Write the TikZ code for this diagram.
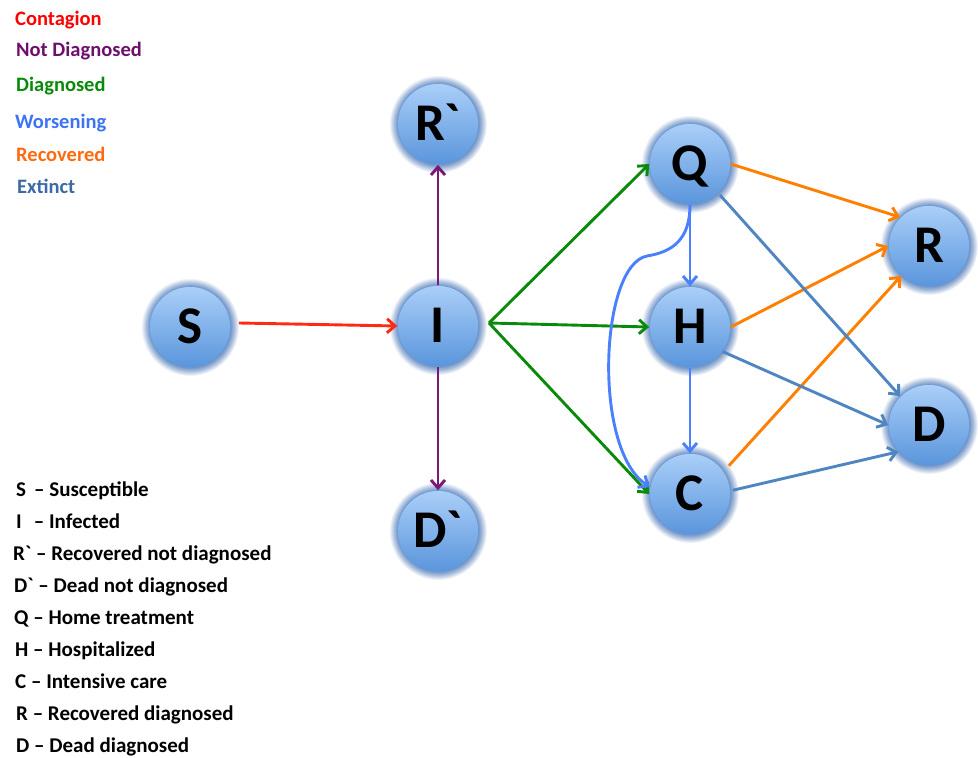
\documentclass[tikz,border=0pt]{standalone}
\usepackage{fontspec}
\setmainfont{Carlito}[Ligatures=TeXOff]
\usetikzlibrary{arrows.meta}
\definecolor{contagion}{HTML}{FF2A12}
\definecolor{contagiontxt}{HTML}{FF0000}
\definecolor{notdiag}{HTML}{7A1A78}
\definecolor{notdiagtxt}{HTML}{6E0F6E}
\definecolor{diag}{HTML}{0A8A0A}
\definecolor{worsen}{HTML}{4A80FF}
\definecolor{worsentxt}{HTML}{3D74F5}
\definecolor{recov}{HTML}{FF8000}
\definecolor{recovtxt}{HTML}{FF6A10}
\definecolor{extinct}{HTML}{4F86C2}
\definecolor{extincttxt}{HTML}{3B6BA5}
\definecolor{nodetop}{HTML}{ABCFF8}
\definecolor{nodebot}{HTML}{5A95DC}
\definecolor{nodeborder}{HTML}{6A9AD4}
\definecolor{glowcol}{HTML}{6F92C4}
\definecolor{glowmid}{HTML}{A9BEDD}
\pgfdeclareradialshading{glowshade}{\pgfpoint{0bp}{0bp}}{color(0bp)=(glowcol); color(20.5bp)=(glowcol); color(22.5bp)=(glowmid); color(25bp)=(white); color(50bp)=(white)}
\pgfdeclarelayer{bg}
\pgfsetlayers{bg,main}
\tikzset{
  state/.style={circle, minimum size=81pt, inner sep=0pt, draw=nodeborder, line width=0.6pt,
    top color=nodetop, bottom color=nodebot, font=\fontsize{53}{53}\selectfont\bfseries,
    text height=34pt, text depth=0pt},
  edge/.style={line width=2.9pt, -{Straight Barb[length=8pt,width=14pt,line width=2.9pt]}},
  legtop/.style={anchor=base west, inner sep=0pt, font=\fontsize{20.5}{21}\selectfont\bfseries},
  legbot/.style={anchor=base west, inner sep=0pt, font=\fontsize{21}{21}\selectfont\bfseries}
}
\begin{document}
\begin{tikzpicture}[x=1pt,y=1pt]
\useasboundingbox (0,0) rectangle (978,758);
% states
\node[state] (S)  at (190,431) {S};
\node[state] (I)  at (438,432) {I};
\node[state] (Rp) at (438,634) {R\symbol{96}};
\node[state] (Dp) at (438,227) {D\symbol{96}};
\node[state] (Q)  at (690,594) {Q};
\node[state] (H)  at (690,431) {H};
\node[state] (C)  at (690,264) {C};
\node[state] (R)  at (929,512) {R};
\node[state] (D)  at (929,333) {D};
\begin{pgfonlayer}{bg}
\fill[white] (0,0) rectangle (978,758);
\foreach \n in {S,I,Rp,Dp,Q,H,C,R,D}
  \shade[shading=glowshade] (\n.center) circle[radius=49];
\end{pgfonlayer}
% contagion
\draw[edge, contagion] ([shift={(8,4)}]S.east) -- (I.west);
% not diagnosed
\draw[edge, notdiag] (I.north) -- (Rp.south);
\draw[edge, notdiag] (I.south) -- (Dp.north);
% diagnosed
\coordinate (g) at (489,435);
\draw[edge, diag] (g) -- (Q.west);
\draw[edge, diag] (g) -- (H.west);
\draw[edge, diag] (g) -- (C.west);
% worsening
\draw[edge, worsen] (Q.south) -- (H.north);
\draw[edge, worsen] (H.south) -- (C.north);
\coordinate (k) at (647,502);
\draw[edge, worsen] (Q.south) .. controls (690,518) and (672,506) .. (k)
   .. controls (600,493) and (592,308) .. (C.170);
% recovered
\draw[edge, recov] (Q.east) -- (R.135);
\draw[edge, recov] (H.east) -- (R.west);
\draw[edge, recov] ([shift={(36:48)}]C.center) -- (R.-133);
% extinct
\draw[edge, extinct] ([shift={(-46:43)}]Q.center) -- (D.135);
\draw[edge, extinct] (H.-37) -- (D.west);
\draw[edge, extinct] ([shift={(5:43)}]C.center) -- (D.221);
% colour legend
\node[legtop, text=contagiontxt] (l1) at (15,732) {Contagion};
\node[legtop, text=notdiagtxt] (l2) at (16,701) {Not Diagnosed};
\node[legtop, text=diag] (l3) at (16,666) {Diagnosed};
\node[legtop, text=worsentxt] (l4) at (15,629) {Worsening};
\node[legtop, text=recovtxt] (l5) at (16,596) {Recovered};
\node[legtop, text=extincttxt] (l6) at (17,564) {Extinct};
% state legend
\node[legbot] (k1) at (16,261) {S\hspace{8pt}– Susceptible};
\node[legbot] (k2) at (16,229) {I\hspace{12pt}– Infected};
\node[legbot] (k3) at (13,197) {R\symbol{96} – Recovered not diagnosed};
\node[legbot] (k4) at (14,165) {D\symbol{96} – Dead not diagnosed};
\node[legbot] (k5) at (14,133) {Q – Home treatment};
\node[legbot] (k6) at (15,101) {H – Hospitalized};
\node[legbot] (k7) at (15,69) {C – Intensive care};
\node[legbot] (k8) at (16,37) {R – Recovered diagnosed};
\node[legbot] (k9) at (16,5) {D – Dead diagnosed};
\end{tikzpicture}
\end{document}
